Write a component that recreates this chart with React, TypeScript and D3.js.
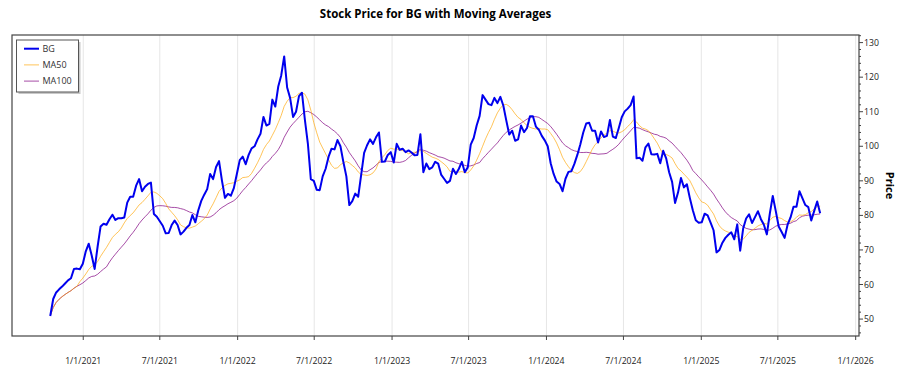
import React from "react";
import * as d3 from "d3";

// ---- data (weekly samples) ----
const title = "Stock Price for BG with Moving Averages";
const seriesNames = ["BG", "MA50", "MA100"];
const firstDate = "2020-10-15";
const stepDays = 7;
const prices: number[] = [
  50.9, 55.8, 57.7, 58.6, 59.4, 60.3, 61.2, 61.8, 64.5, 64.6,
  64.4, 66.0, 69.6, 71.8, 68.4, 64.5, 71.0, 76.8, 77.6, 77.3,
  78.9, 80.2, 78.7, 79.2, 79.2, 79.4, 83.7, 85.4, 85.4, 88.6,
  90.5, 87.0, 88.3, 89.1, 89.5, 80.4, 79.6, 78.3, 77.0, 74.8,
  74.9, 77.2, 78.5, 77.2, 74.5, 75.3, 76.4, 77.2, 80.1, 78.0,
  81.5, 84.2, 86.0, 87.6, 92.0, 90.5, 94.0, 95.7, 90.0, 85.1,
  86.2, 85.7, 87.9, 91.9, 96.0, 97.0, 94.8, 97.5, 99.4, 100.0,
  102.0, 103.6, 108.5, 106.0, 106.5, 113.5, 111.5, 117.3, 120.5, 126.0,
  117.0, 114.0, 108.5, 110.0, 114.5, 115.5, 107.6, 100.8, 90.5, 90.0,
  87.4, 87.3, 91.3, 93.5, 97.0, 99.3, 99.1, 101.8, 100.0, 95.4,
  91.3, 83.0, 84.1, 86.3, 85.4, 91.7, 98.1, 100.3, 102.0, 100.7,
  102.6, 104.0, 95.5, 95.6, 97.5, 98.3, 95.3, 100.7, 99.0, 99.3,
  98.3, 98.8, 98.2, 97.4, 97.5, 103.5, 92.5, 95.0, 93.4, 93.9,
  95.5, 95.0, 91.8, 90.6, 89.4, 90.0, 93.5, 92.0, 93.5, 95.5,
  92.5, 93.9, 100.5, 102.4, 106.0, 108.8, 114.8, 113.5, 112.2, 111.9,
  114.0, 112.5, 114.3, 111.8, 107.5, 103.4, 104.5, 101.6, 102.0, 106.0,
  104.1, 105.3, 108.7, 108.7, 105.7, 104.8, 103.0, 101.7, 100.0, 95.1,
  92.0, 89.8, 89.1, 87.0, 90.6, 92.6, 92.8, 94.9, 97.5, 100.5,
  104.0, 106.6, 106.8, 104.5, 104.5, 101.1, 104.3, 102.7, 103.0, 107.6,
  102.8, 102.4, 105.3, 108.4, 110.1, 110.9, 111.9, 114.4, 96.5, 96.7,
  95.8, 99.7, 100.8, 97.7, 97.6, 97.8, 95.1, 98.7, 96.5, 92.5,
  89.7, 83.6, 86.6, 90.8, 88.1, 89.0, 85.0, 81.5, 78.6, 77.9,
  78.0, 80.5, 80.0, 77.9, 75.7, 69.3, 70.0, 72.1, 73.5, 74.4,
  75.1, 73.1, 77.4, 69.8, 76.2, 79.1, 80.3, 77.8, 79.5, 81.2,
  78.9, 77.3, 74.5, 80.5, 85.6, 81.3, 76.8, 75.2, 73.5, 77.3,
  79.4, 82.5, 82.5, 87.0, 85.0, 83.0, 82.4, 78.5, 81.3, 84.0,
  80.6,
];
// moving-average windows, in weekly samples (50 and 100 trading days)
const maWindows = [10, 20];
const xDomain = ["2020-07-16T14:00", "2026-01-08T20:00"];
const yDomain = [45.1, 132.2];
const yTicks = [50, 60, 70, 80, 90, 100, 110, 120, 130];

const W = 900;
const H = 375;
const L = 12, R = 859, T = 35, B = 336;
const FONT = "'Open Sans', 'Noto Sans', sans-serif";

function movingAvg(vals: number[], w: number): number[] {
  return vals.map((_, i) => {
    const s = Math.max(0, i - w + 1);
    return d3.mean(vals.slice(s, i + 1)) as number;
  });
}

export default function App() {
  const start = new Date(firstDate + "T00:00");
  const dates = prices.map((_, i) => d3.timeDay.offset(start, i * stepDays));
  const x = d3.scaleTime().domain(xDomain.map((d) => new Date(d))).range([L, R]);
  const y = d3.scaleLinear().domain(yDomain).range([B, T]);
  const xTicks = d3.timeMonth.every(6)!.range(new Date("2021-01-01T00:00"), new Date("2026-01-02T00:00"));
  const fmt = d3.timeFormat("%-m/%-d/%Y");
  const minor = d3.range(46, 132.2, 2).filter((v) => v % 10 !== 0);

  const line = d3
    .line<number>()
    .x((_, i) => x(dates[i]))
    .y((v) => y(v));

  const ma50 = movingAvg(prices, maWindows[0]);
  const ma100 = movingAvg(prices, maWindows[1]);

  const legendItems = [
    { name: seriesNames[0], color: "#0000ee", w: 2 },
    { name: seriesNames[1], color: "rgba(255,165,0,0.65)", w: 1 },
    { name: seriesNames[2], color: "rgba(128,0,128,0.7)", w: 1 },
  ];

  return (
    <svg width={W} height={H} style={{ position: "absolute", left: 0, top: 0, background: "#fff" }} fontFamily={FONT}>
      <rect x={0} y={0} width={W} height={H} fill="#fff" />
      <text x={(L + R) / 2} y={18} textAnchor="middle" fontSize={11.5} fontWeight="bold" fill="#000">
        {title}
      </text>
      {/* grid */}
      {xTicks.map((t, i) => (
        <line key={"g" + i} x1={x(t)} x2={x(t)} y1={T} y2={B} stroke="#e6e6e6" strokeWidth={1} />
      ))}
      {/* series */}
      <path d={line(ma100) || ""} fill="none" stroke="rgba(128,0,128,0.7)" strokeWidth={1} />
      <path d={line(ma50) || ""} fill="none" stroke="rgba(255,165,0,0.65)" strokeWidth={1} />
      <path d={line(prices) || ""} fill="none" stroke="#0000ee" strokeWidth={2} strokeLinejoin="round" />
      {/* frame */}
      <rect x={L} y={T} width={R - L} height={B - T} fill="none" stroke="#444" strokeWidth={1.2} />
      {/* x ticks */}
      {xTicks.map((t, i) => (
        <g key={"x" + i}>
          <line x1={x(t)} x2={x(t)} y1={B} y2={B + 4} stroke="#444" />
          <text x={x(t)} y={364} textAnchor="middle" fontSize={8.7} fill="#222">
            {fmt(t)}
          </text>
        </g>
      ))}
      {/* y ticks */}
      {yTicks.map((v) => (
        <g key={"y" + v}>
          <line x1={R} x2={R + 4} y1={y(v)} y2={y(v)} stroke="#444" />
          <text x={864} y={y(v)} dy="0.35em" fontSize={8.7} fill="#222">
            {v}
          </text>
        </g>
      ))}
      {minor.map((v) => (
        <line key={"m" + v} x1={R} x2={R + 2} y1={y(v)} y2={y(v)} stroke="#444" />
      ))}
      <text transform={`translate(886,${(T + B) / 2}) rotate(90)`} textAnchor="middle" fontSize={11} fontWeight="bold" fill="#000">
        Price
      </text>
      {/* legend */}
      <rect x={18.5} y={42} width={62} height={52} fill="#c8c8c8" />
      <rect x={16.5} y={40} width={62} height={52} fill="#fff" stroke="#555" strokeWidth={1} />
      {legendItems.map((it, i) => (
        <g key={it.name}>
          <line x1={24} x2={39} y1={48.7 + i * 16.2} y2={48.7 + i * 16.2} stroke={it.color} strokeWidth={it.w} />
          <text x={42.5} y={48.7 + i * 16.2} dy="0.35em" fontSize={9} fill="#333">
            {it.name}
          </text>
        </g>
      ))}
    </svg>
  );
}
